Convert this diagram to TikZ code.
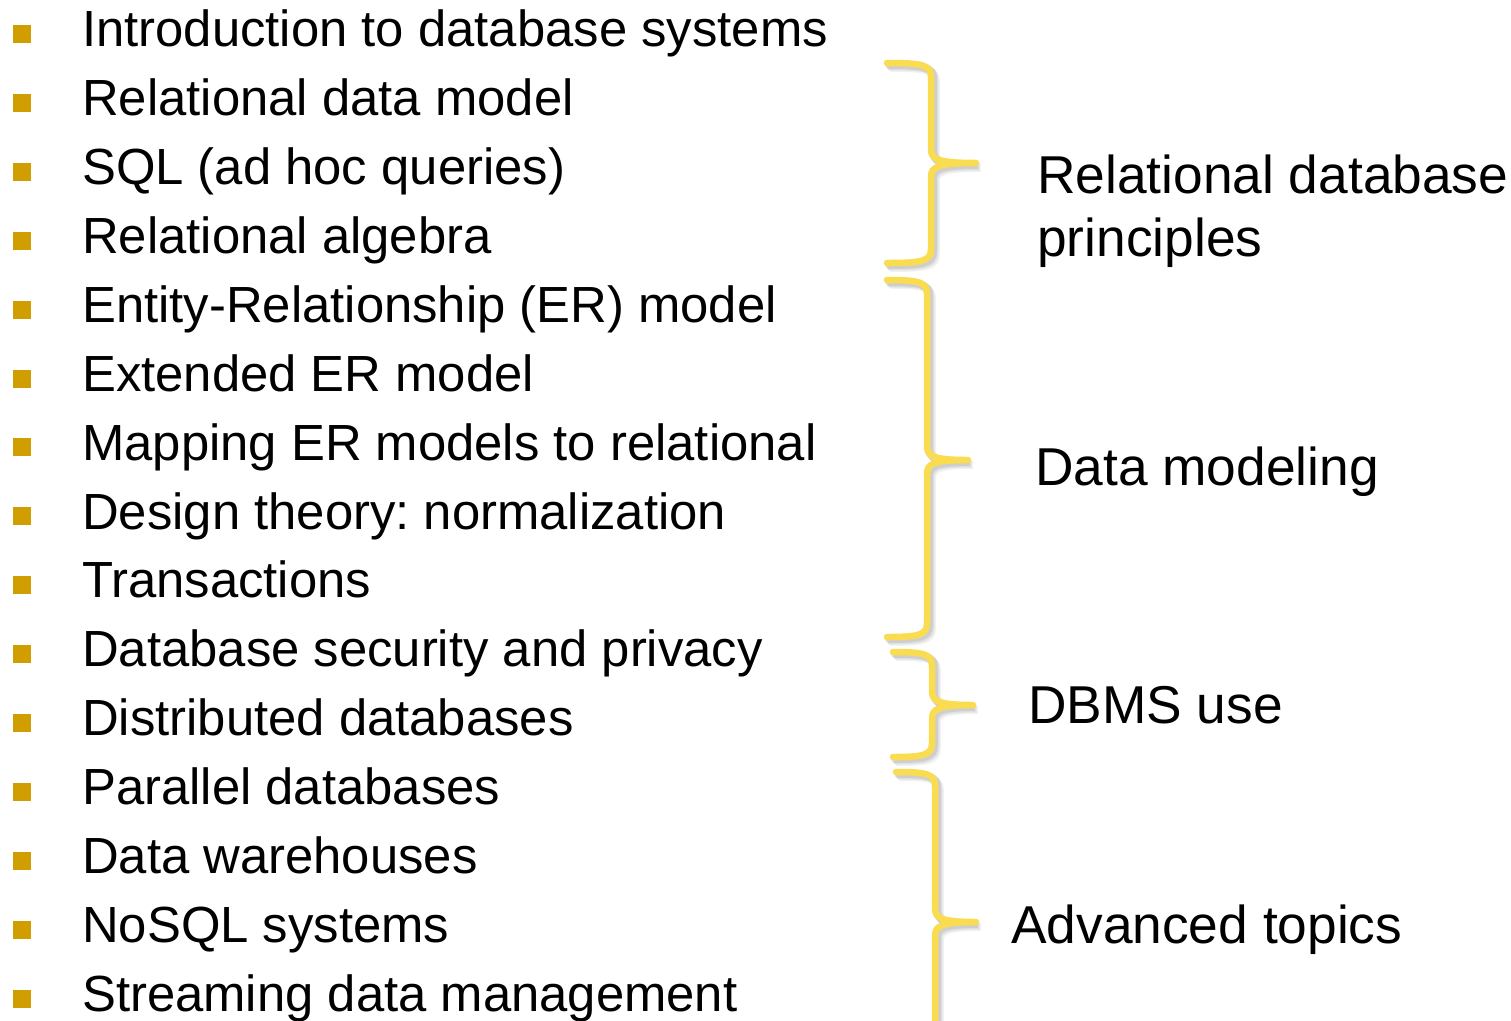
\documentclass[tikz,border=0pt]{standalone}
\usepackage{fontspec}
\setmainfont{Liberation Sans}
\frenchspacing
\definecolor{bulletgold}{RGB}{208,158,0}
\definecolor{braceyellow}{RGB}{250,220,80}
\newcommand\mybrace[6]{% xstart, ytop, xv, ytip, xtip, ybot
  \foreach \sx/\op in {5/0.10,3.5/0.15,2/0.2}{%
  \draw[line width=8bp, gray, opacity=\op, line cap=round, xshift=\sx bp, yshift=-\sx bp]
    (#1,#2) .. controls (#3-8,#2) and (#3,#2+2) .. (#3,#2+14) -- (#3,#4-14)
    .. controls (#3,#4-4) and (#3+6,#4) .. (#5,#4)
    .. controls (#3+6,#4) and (#3,#4+4) .. (#3,#4+14) -- (#3,#6-14)
    .. controls (#3,#6-2) and (#3-8,#6) .. (#1,#6);}
  \draw[bracestyle]
    (#1,#2) .. controls (#3-8,#2) and (#3,#2+2) .. (#3,#2+14) -- (#3,#4-14)
    .. controls (#3,#4-4) and (#3+6,#4) .. (#5,#4)
    .. controls (#3+6,#4) and (#3,#4+4) .. (#3,#4+14) -- (#3,#6-14)
    .. controls (#3,#6-2) and (#3-8,#6) .. (#1,#6);
}
\begin{document}
\begin{tikzpicture}[x=1bp,y=-1bp,
  bulletbox/.style={fill=bulletgold, minimum size=18bp, inner sep=0, draw=none},
  item/.style={anchor=base west, inner sep=0, font=\fontsize{51}{62}\selectfont},
  group/.style={anchor=base west, inner sep=0, font=\fontsize{53.5}{63}\selectfont, align=left},
  bracestyle/.style={line width=6.5bp, braceyellow, line cap=round, line join=round}]
\useasboundingbox (0,0) rectangle (1511,1020);
\foreach \t [count=\i] in {
  Introduction to database systems,
  Relational data model,
  SQL (ad hoc queries),
  Relational algebra,
  Entity-Relationship (ER) model,
  Extended ER model,
  Mapping ER models to relational,
  Design theory: normalization,
  Transactions,
  Database security and privacy,
  Distributed databases,
  Parallel databases,
  Data warehouses,
  NoSQL systems,
  Streaming data management}{
  \pgfmathsetmacro\yb{46.7+68.9*(\i-1)}
  \node[bulletbox] (b\i) at (22,\yb-12.7) {};
  \node[item] (t\i) at (82,\yb) {\t};
}
\mybrace{887}{63}{931}{163}{976}{263}
\mybrace{887}{280}{927}{460}{968}{637}
\mybrace{893}{652}{932}{705}{973}{757}
\mybrace{896}{772}{935}{922}{976}{1040}
\node[group] (g1) at (1037,256) {Relational database\\principles};
\node[group] (g2) at (1035,485) {Data modeling};
\node[group] (g3) at (1028,723) {DBMS use};
\node[group] (g4) at (1011,943) {Advanced topics};
\end{tikzpicture}
\end{document}
